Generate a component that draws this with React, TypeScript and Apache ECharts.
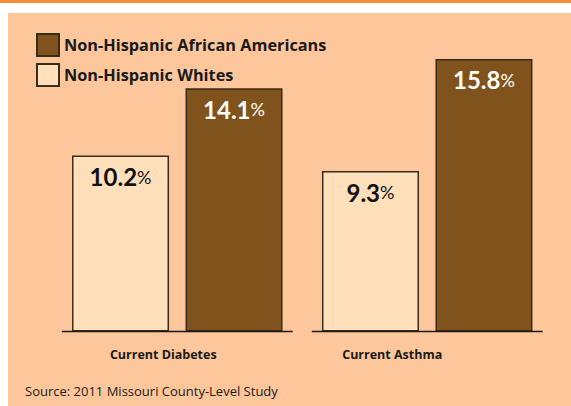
import React, { useEffect, useRef } from "react";
import * as echarts from "echarts";

const categories = ["Current Diabetes", "Current Asthma"];
const whites = [10.2, 9.3];
const africanAmericans = [14.1, 15.8];
const seriesNames = ["Non-Hispanic Whites", "Non-Hispanic African Americans"];
const sourceText = "Source: 2011 Missouri County-Level Study";

const FONT = "'Open Sans', Lato, sans-serif";
const NUMFONT = "Lato, 'Open Sans', sans-serif";
const BORDER = "#3a2c1c";

export default function App() {
  const ref = useRef<HTMLDivElement>(null);
  useEffect(() => {
    if (!ref.current) return;
    const chart = echarts.init(ref.current, null, { renderer: "svg" });
    const labelRich = (color: string) => ({
      v: { fontFamily: NUMFONT, fontWeight: "bold", fontSize: 24, color },
      p: { fontFamily: NUMFONT, fontWeight: "normal", fontSize: 18, color },
    });
    chart.setOption({
      animation: false,
      backgroundColor: "#ffffff",
      graphic: [
        { type: "rect", z: -10, shape: { x: 0, y: 0, width: 571, height: 3 }, style: { fill: "#F68D35" } },
        { type: "rect", z: -10, shape: { x: 8, y: 13, width: 563, height: 393 }, style: { fill: "#FDC79B" } },
        {
          type: "text",
          left: 25,
          top: 384,
          style: { text: sourceText, font: `13px ${FONT}`, fill: "#1a1a1a" },
        },
      ],
      legend: {
        data: [seriesNames[1], seriesNames[0]],
        orient: "vertical",
        left: 31,
        top: 28,
        itemWidth: 22,
        itemHeight: 22,
        itemGap: 6,
        icon: "rect",
        textStyle: { fontFamily: FONT, fontWeight: "bold", fontSize: 16.3, color: "#1a1a1a", padding: [0, 0, 0, 0] },
      },
      grid: { left: 52.3, right: 18.8, top: 55.5, bottom: 74.5 },
      xAxis: {
        type: "category",
        data: categories,
        axisLine: { show: false },
        axisTick: { show: false },
        axisLabel: {
          margin: 16,
          formatter: (v: string) => (v === categories[0] ? `{a|${v}}` : `{b|${v}}`),
          rich: {
            a: { fontFamily: FONT, fontWeight: "bold", fontSize: 12.5, color: "#1a1a1a", padding: [0, 28, 0, 0] },
            b: { fontFamily: FONT, fontWeight: "bold", fontSize: 12.5, color: "#1a1a1a", padding: [0, 70, 0, 0] },
          },
        },
      },
      yAxis: { type: "value", min: 0, max: 16, show: false, splitLine: { show: false } },
      series: [
        {
          name: seriesNames[0],
          type: "bar",
          data: whites,
          barWidth: 97,
          barGap: "17%",
          itemStyle: { color: "#FFE0BB", borderColor: BORDER, borderWidth: 1.5 },
          label: {
            show: true,
            position: "insideTop",
            distance: 9,
            formatter: (p: any) => `{v|${p.value}}{p|%}`,
            rich: labelRich("#111111"),
          },
        },
        {
          name: seriesNames[1],
          type: "bar",
          data: africanAmericans,
          barWidth: 97,
          barGap: "17%",
          itemStyle: { color: "#7F531B", borderColor: BORDER, borderWidth: 1.5 },
          label: {
            show: true,
            position: "insideTop",
            distance: 9,
            formatter: (p: any) => `{v|${p.value}}{p|%}`,
            rich: labelRich("#ffffff"),
          },
        },
        {
          type: "custom",
          data: categories.map((_, i) => [i, 0]),
          z: 5,
          renderItem: (params: any, api: any) => {
            const pt = api.coord([api.value(0), 0]);
            const band = api.size([1, 0])[0];
            const half = band * 0.462;
            return {
              type: "line",
              shape: { x1: pt[0] - half, y1: pt[1], x2: pt[0] + half, y2: pt[1] },
              style: { stroke: "#1a1a1a", lineWidth: 1.5 },
            };
          },
        },
      ],
    });
    return () => chart.dispose();
  }, []);
  return <div ref={ref} style={{ position: "absolute", left: 0, top: 0, width: 571, height: 406 }} />;
}
